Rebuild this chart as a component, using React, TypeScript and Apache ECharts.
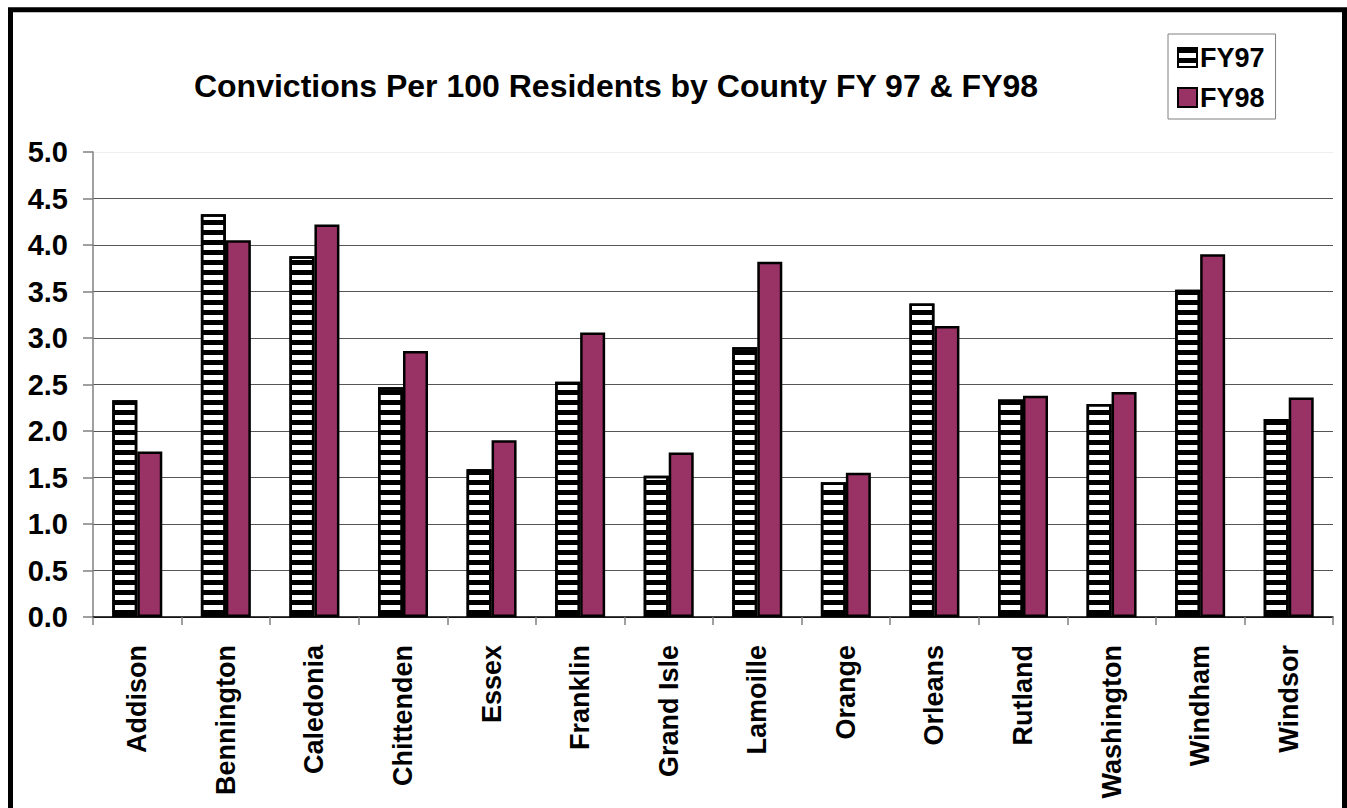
import React, { useEffect, useRef } from "react";
import * as echarts from "echarts";

const counties = [
  "Addison", "Bennington", "Caledonia", "Chittenden", "Essex", "Franklin", "Grand Isle",
  "Lamoille", "Orange", "Orleans", "Rutland", "Washington", "Windham", "Windsor",
];
const fy97 = [2.33, 4.33, 3.88, 2.47, 1.59, 2.53, 1.52, 2.9, 1.45, 3.37, 2.34, 2.29, 3.52, 2.13];
const fy98 = [1.78, 4.05, 4.22, 2.86, 1.9, 3.06, 1.77, 3.82, 1.55, 3.13, 2.38, 2.42, 3.9, 2.36];
const seriesNames = ["FY97", "FY98"];
const titleText = "Convictions Per 100 Residents by County FY 97 & FY98";

const FONT = "'Liberation Sans', Arial, Helvetica, sans-serif";

export default function App() {
  const ref = useRef<HTMLDivElement>(null);
  useEffect(() => {
    if (!ref.current) return;
    const chart = echarts.init(ref.current, undefined, { renderer: "svg" });
    const gridColors = ["#555", "#555", "#555", "#555", "#555", "#555", "#555", "#555", "#555", "#555", "#eeeeee"];
    chart.setOption({
      animation: false,
      backgroundColor: "#fff",
      textStyle: { fontFamily: FONT },
      title: {
        text: titleText,
        left: 616,
        top: 70,
        padding: 0,
        textAlign: "center",
        textStyle: { fontFamily: FONT, fontSize: 32, fontWeight: "bold", color: "#000" },
      },
      legend: {
        orient: "vertical",
        left: 1168,
        top: 34,
        padding: [10, 11, 8, 9],
        borderColor: "#808080",
        borderWidth: 1,
        itemWidth: 19,
        itemHeight: 19,
        itemGap: 13,
        icon: "rect",
        textStyle: { fontFamily: FONT, fontSize: 27, fontWeight: "bold", color: "#000", padding: [0, 0, 0, -2] },
        data: seriesNames,
      },
      grid: { left: 93, right: 14, top: 152, bottom: 191, containLabel: false },
      xAxis: {
        type: "category",
        data: counties,
        axisLine: { lineStyle: { color: "#000", width: 1.5 } },
        axisTick: { show: true, length: 8, lineStyle: { color: "#808080", width: 1.5 } },
        axisLabel: {
          rotate: 90,
          margin: 28,
          fontFamily: FONT,
          fontSize: 27,
          fontWeight: "bold",
          color: "#000",
          interval: 0,
        },
      },
      yAxis: {
        type: "value",
        min: 0,
        max: 5,
        interval: 0.5,
        axisLine: { show: true, lineStyle: { color: "#808080", width: 1.5 } },
        axisTick: { show: true, length: 10, lineStyle: { color: "#808080", width: 1.5 } },
        axisLabel: {
          margin: 25,
          fontFamily: FONT,
          fontSize: 29,
          fontWeight: "bold",
          color: "#000",
          formatter: (v: number) => v.toFixed(1),
        },
        splitLine: { show: true, lineStyle: { color: gridColors, width: 1.2 } },
      },
      series: [
        {
          name: seriesNames[0],
          type: "bar",
          data: fy97,
          barWidth: 25,
          barGap: "0%",
          itemStyle: {
            color: "#fff",
            borderColor: "#000",
            borderWidth: 2.5,
            decal: {
              symbol: "rect",
              symbolSize: 1,
              dashArrayX: [20, 0],
              dashArrayY: [5, 5],
              color: "#000",
              rotation: 0,
            },
          },
        },
        {
          name: seriesNames[1],
          type: "bar",
          data: fy98,
          barWidth: 25,
          barGap: "0%",
          itemStyle: { color: "#993366", borderColor: "#000", borderWidth: 2.5 },
        },
      ],
      graphic: [
        {
          type: "rect",
          shape: { x: 10.5, y: 9.8, width: 1334, height: 900 },
          style: { fill: "none", stroke: "#000", lineWidth: 5 },
          silent: true,
          z: 100,
        },
      ],
    });
    return () => chart.dispose();
  }, []);
  return (
    <div
      ref={ref}
      style={{ position: "absolute", left: 0, top: 0, width: 1347, height: 808 }}
    />
  );
}
